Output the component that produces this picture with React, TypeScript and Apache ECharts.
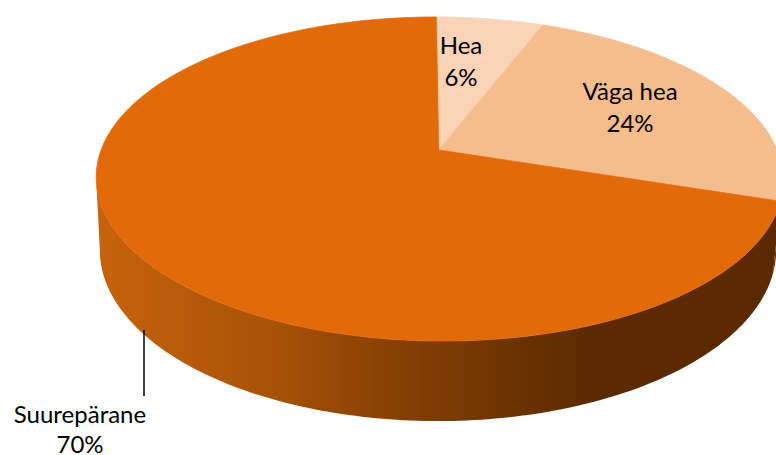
import React, { useEffect, useRef } from "react";
import * as echarts from "echarts";

const categories = ["Hea", "Väga hea", "Suurepärane"];
const values = [6, 24, 70];
const sliceColors = ["#F9D3B5", "#F6BD8C", "#E26A08"];
const labelCenters = [
  [461, 60.5],
  [630, 106.5],
  [80, 428],
];
const labelLineGaps = [31.5, 31.5, 30];

// Projection of the tilted disc: a unit circle seen in perspective.
const persp = -0.179;
const topFace = { k: 338, a: 130, b: 150, x0: 439.75, y0: 179, shear: 0.0216 };
const baseFace = { k: 332.7, a: 126.3, b: 219.4, x0: 438, y0: 250, shear: 0.0 };
const deg = Math.PI / 180;
const visibleFrom = 100.3;
const visibleTo = 259.7;

function project(face: typeof topFace, theta: number): number[] {
  const u = Math.sin(theta * deg);
  const v = -Math.cos(theta * deg);
  const w = 1 + persp * v;
  const y = (face.a * v + face.b) / w;
  const x = face.x0 + face.shear * (y - face.y0) + (face.k * u) / w;
  return [x, y];
}

function arc(face: typeof topFace, from: number, to: number): number[][] {
  const n = Math.max(2, Math.ceil(Math.abs(to - from)));
  const pts: number[][] = [];
  for (let i = 0; i <= n; i++) pts.push(project(face, from + ((to - from) * i) / n));
  return pts;
}

function wallGradient() {
  return new echarts.graphic.LinearGradient(
    97,
    0,
    590,
    0,
    [
      { offset: 0, color: "#C7630B" },
      { offset: 0.37, color: "#A65107" },
      { offset: 0.62, color: "#843F03" },
      { offset: 1, color: "#5B2A00" },
    ],
    true
  );
}

function renderItem(params: any, api: any) {
  const i = params.dataIndex;
  const total = values.reduce((s, v) => s + v, 0);
  const before = values.slice(0, i).reduce((s, v) => s + v, 0);
  const start = (before / total) * 360;
  const end = ((before + api.value(0)) / total) * 360;
  const apex = project(topFace, 0);
  const children: any[] = [];

  const wallFrom = Math.max(start, visibleFrom);
  const wallTo = Math.min(end, visibleTo);
  if (wallTo > wallFrom) {
    children.push({
      type: "polygon",
      shape: {
        points: [...arc(topFace, wallFrom, wallTo), ...arc(baseFace, wallTo, wallFrom)],
      },
      style: { fill: wallGradient() },
    });
  }

  children.push({
    type: "polygon",
    shape: { points: [[apex[0] + 2.5, topFace.b], ...arc(topFace, start, end)] },
    style: { fill: sliceColors[i], stroke: sliceColors[i], lineWidth: 0.8, lineJoin: "round" },
  });

  return { type: "group", children };
}

function labelLine(text: string, x: number, y: number) {
  return {
    type: "text",
    x,
    y,
    style: {
      text,
      fill: "#000000",
      fontFamily: "Lato",
      fontSize: 24,
      align: "center",
      verticalAlign: "middle",
    },
  };
}

function renderLabels(params: any, api: any) {
  const i = params.dataIndex;
  const c = labelCenters[i];
  const gap = labelLineGaps[i];
  const children: any[] = [];
  if (i === 2) {
    children.push({
      type: "line",
      shape: { x1: 144, y1: 330, x2: 144, y2: 396 },
      style: { stroke: "#000000", lineWidth: 1.5 },
    });
  }
  children.push(labelLine(categories[i], c[0], c[1] - gap / 2));
  children.push(labelLine(`${api.value(0)}%`, c[0], c[1] + gap / 2));
  return { type: "group", children };
}

export default function App() {
  const ref = useRef<HTMLDivElement>(null);
  useEffect(() => {
    const chart = echarts.init(ref.current!, null, { renderer: "svg" });
    const data = categories.map((name, i) => ({ name, value: values[i] }));
    chart.setOption({
      animation: false,
      backgroundColor: "#ffffff",
      series: [
        { type: "custom", coordinateSystem: "none", renderItem, data, z: 1 },
        { type: "custom", coordinateSystem: "none", renderItem: renderLabels, data, z: 2 },
      ],
    });
    return () => chart.dispose();
  }, []);
  return (
    <div
      ref={ref}
      style={{ position: "absolute", left: 0, top: 0, width: 776, height: 455 }}
    />
  );
}
